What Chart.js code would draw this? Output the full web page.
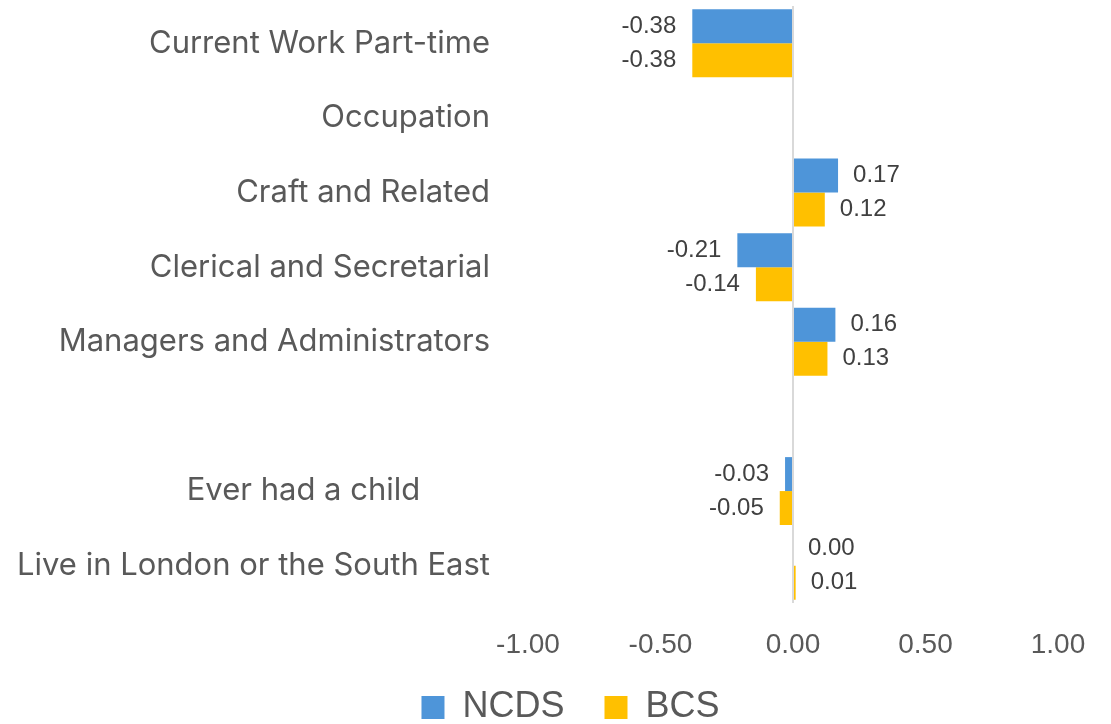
<!DOCTYPE html>
<html>
<head>
<meta charset="utf-8">
<script src="https://cdn.jsdelivr.net/npm/chart.js@4.4.1/dist/chart.umd.min.js"></script>
<style>
  html, body { margin: 0; padding: 0; background: #fff; }
  #wrap { width: 1111px; height: 724px; }
</style>
</head>
<body>
<div id="wrap"><canvas id="myChart"></canvas></div>
<script>
const NBSP = '\u00a0';
const categories = [
  'Current Work Part-time',
  'Occupation',
  'Craft and Related',
  'Clerical and Secretarial',
  'Managers and Administrators',
  '',
  'Ever had a child' + NBSP.repeat(8),
  'Live in London or the South East'
];
const ncdsValues = [-0.38, null, 0.17, -0.21, 0.16, null, -0.03, 0.00];
const bcsValues = [-0.38, null, 0.12, -0.14, 0.13, null, -0.05, 0.01];
const xTicks = [-1, -0.5, 0, 0.5, 1];

const textColor = '#595959';

// draws the value next to the end of each bar
const valueLabels = {
  id: 'valueLabels',
  afterDatasetsDraw(chart) {
    const ctx = chart.ctx;
    ctx.save();
    ctx.font = '24px "Liberation Sans", Arial, sans-serif';
    ctx.fillStyle = '#404040';
    ctx.textBaseline = 'middle';
    chart.data.datasets.forEach((ds, i) => {
      const meta = chart.getDatasetMeta(i);
      meta.data.forEach((bar, j) => {
        const v = ds.data[j];
        if (v === null || v === undefined) return;
        if (v < 0) {
          ctx.textAlign = 'right';
          ctx.fillText(v.toFixed(2), bar.x - 16, bar.y);
        } else {
          ctx.textAlign = 'left';
          ctx.fillText(v.toFixed(2), bar.x + 15, bar.y);
        }
      });
    });
    ctx.restore();
  }
};

// nudge the legend a little right and up, like the original
const legendNudge = {
  id: 'legendNudge',
  afterLayout(chart) {
    const lg = chart.legend;
    if (!lg) return;
    lg.left += 15; lg.right += 15;
    lg.top -= 4; lg.bottom -= 4;
  }
};

const ctx = document.getElementById('myChart').getContext('2d');
window.chart = new Chart(ctx, {
  type: 'bar',
  data: {
    labels: categories,
    datasets: [
      {
        label: 'NCDS',
        data: ncdsValues,
        backgroundColor: '#4E95D9',
        categoryPercentage: 0.91,
        barPercentage: 1.0
      },
      {
        label: 'BCS',
        data: bcsValues,
        backgroundColor: '#FFC000',
        categoryPercentage: 0.91,
        barPercentage: 1.0
      }
    ]
  },
  options: {
    indexAxis: 'y',
    responsive: true,
    maintainAspectRatio: false,
    animation: false,
    layout: { padding: { top: 6, right: 0, left: 0, bottom: -15.5 } },
    plugins: {
      tooltip: { enabled: false },
      legend: {
        position: 'bottom',
        labels: {
          color: textColor,
          font: { family: '"Liberation Sans", Arial, sans-serif', size: 36, lineHeight: 1 },
          boxWidth: 23,
          boxHeight: 23,
          padding: 40
        }
      }
    },
    scales: {
      x: {
        min: -1,
        max: 1.2,  // extra room on the right; ticks stop at 1.00
        afterBuildTicks: scale => { scale.ticks = xTicks.map(v => ({ value: v })); },
        afterFit: scale => {
          scale.height = 50.5;
          scale.paddingLeft = 0;
          scale.paddingRight = 0;
        },
        ticks: {
          color: textColor,
          padding: 25,
          font: { family: '"Liberation Sans", Arial, sans-serif', size: 28 },
          callback: v => Number(v).toFixed(2)
        },
        grid: {
          drawTicks: false,
          color: c => (c.tick && c.tick.value === 0 ? '#d9d9d9' : 'rgba(0,0,0,0)'),
          lineWidth: 2
        },
        border: { display: false }
      },
      y: {
        afterFit: scale => {
          scale.width = 528;
          scale.paddingTop = 0;
          scale.paddingBottom = 0;
        },
        ticks: {
          color: textColor,
          padding: 38,
          font: { family: 'Inter, "Noto Sans", sans-serif', size: 31 }
        },
        grid: { display: false, drawTicks: false },
        border: { display: false }
      }
    }
  },
  plugins: [valueLabels, legendNudge]
});
</script>
</body>
</html>
